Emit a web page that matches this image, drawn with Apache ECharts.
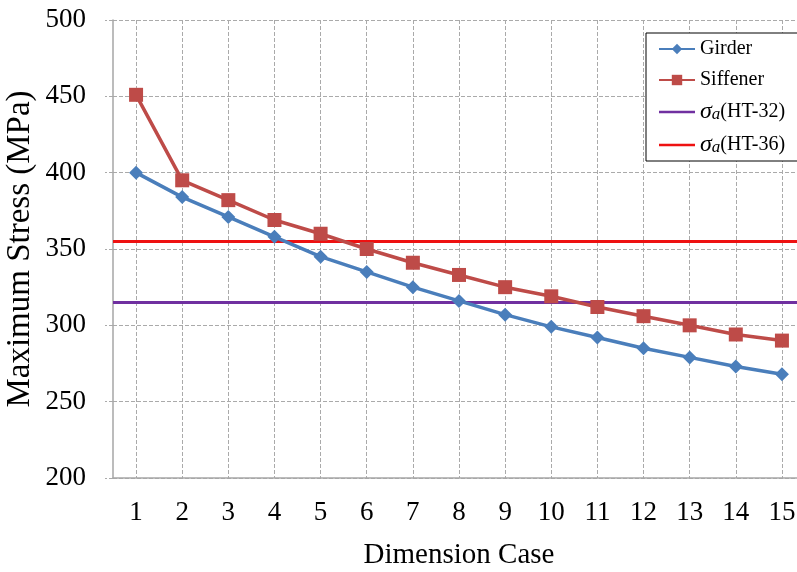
<!DOCTYPE html>
<html>
<head>
<meta charset="utf-8">
<script src="https://cdn.jsdelivr.net/npm/echarts@6/dist/echarts.min.js"></script>
<style>html,body{margin:0;padding:0;background:#fff;}#c{width:797px;height:572px;}</style>
</head>
<body>
<div id="c"></div>
<script>
var categories = ['1','2','3','4','5','6','7','8','9','10','11','12','13','14','15'];
var girder = [400, 384, 371, 358, 345, 335, 325, 316, 307, 299, 292, 285, 279, 273, 268];
var siffener = [451, 395, 382, 369, 360, 350, 341, 333, 325, 319, 312, 306, 300, 294, 290];
var yTicks = [200, 250, 300, 350, 400, 450, 500];
var ht32 = 315;
var ht36 = 355;

var serif = '"Liberation Serif", "DejaVu Serif", serif';
var chart = echarts.init(document.getElementById('c'));
var sigmaRich = {
  s: { fontFamily: serif, fontStyle: 'italic', fontSize: 24, color: '#000', lineHeight: 22 },
  sub: { fontFamily: serif, fontStyle: 'italic', fontSize: 17, color: '#000', lineHeight: 12, verticalAlign: 'bottom' },
  t: { fontFamily: serif, fontSize: 20, color: '#000', lineHeight: 22 }
};
var lineIcon = 'path://M0,0 L40,0 L40,3 L0,3 Z';
chart.setOption({
  animation: false,
  backgroundColor: '#fff',
  grid: { left: 113, top: 20, width: 692, height: 458, outerBoundsMode: 'none', containLabel: false },
  legend: {
    orient: 'vertical',
    left: 646, top: 33,
    width: 160,
    backgroundColor: '#fff',
    borderColor: '#000',
    borderWidth: 1,
    borderRadius: 0,
    padding: [5, 20, 4, 12],
    itemGap: 9,
    itemWidth: 36,
    itemHeight: 13,
    textStyle: { fontFamily: serif, fontSize: 20, color: '#000', lineHeight: 22, rich: sigmaRich },
    formatter: function (name) {
      if (name === 'HT32') return '{s|σ}{sub|a}{t|(HT-32)}';
      if (name === 'HT36') return '{s|σ}{sub|a}{t|(HT-36)}';
      return '{t|' + name + '}';
    },
    data: [
      { name: 'Girder' },
      { name: 'Siffener' },
      { name: 'HT32', icon: lineIcon, itemStyle: { color: '#7030A0' } },
      { name: 'HT36', icon: lineIcon, itemStyle: { color: '#EE1111' } }
    ]
  },
  xAxis: {
    type: 'category',
    data: categories,
    boundaryGap: true,
    name: 'Dimension Case',
    nameLocation: 'middle',
    nameGap: 63,
    nameTextStyle: { fontFamily: serif, fontSize: 29, color: '#000' },
    axisLine: { lineStyle: { color: '#A6A6A6', width: 1.5 } },
    axisTick: { alignWithLabel: true, length: 12, lineStyle: { color: '#AAAAAA', type: 'dashed' } },
    axisLabel: { fontFamily: serif, fontSize: 27, color: '#000', margin: 21 },
    splitLine: { show: true, alignWithLabel: true, lineStyle: { color: '#AAAAAA', type: 'dashed', width: 1 } }
  },
  yAxis: {
    type: 'value',
    min: yTicks[0], max: yTicks[yTicks.length - 1], interval: 50,
    name: 'Maximum Stress (MPa)',
    nameLocation: 'middle',
    nameGap: 76,
    nameMoveOverlap: false,
    nameTextStyle: { fontFamily: serif, fontSize: 33, color: '#000' },
    axisLine: { show: true, lineStyle: { color: '#A6A6A6', width: 1.5 } },
    axisTick: { show: true, length: 8, lineStyle: { color: '#AAAAAA', type: 'dashed' } },
    axisLabel: { fontFamily: serif, fontSize: 27, color: '#000', margin: 27 },
    splitLine: { show: true, lineStyle: { color: '#AAAAAA', type: 'dashed', width: 1 } }
  },
  series: [
    {
      name: 'HT32', type: 'line', data: [], color: '#7030A0',
      lineStyle: { color: '#7030A0', width: 3 }, symbol: 'none',
      markLine: { silent: true, symbol: 'none', label: { show: false },
        lineStyle: { color: '#7030A0', width: 3, type: 'solid' }, data: [{ yAxis: ht32 }] }
    },
    {
      name: 'HT36', type: 'line', data: [], color: '#EE1111',
      lineStyle: { color: '#EE1111', width: 3 }, symbol: 'none',
      markLine: { silent: true, symbol: 'none', label: { show: false },
        lineStyle: { color: '#EE1111', width: 3, type: 'solid' }, data: [{ yAxis: ht36 }] }
    },
    {
      name: 'Girder', type: 'line', data: girder, color: '#4A7EBB',
      lineStyle: { color: '#4A7EBB', width: 3.5 },
      symbol: 'diamond', symbolSize: 14,
      itemStyle: { color: '#4A7EBB' }, z: 5
    },
    {
      name: 'Siffener', type: 'line', data: siffener, color: '#BE4B48',
      lineStyle: { color: '#BE4B48', width: 3.5 },
      symbol: 'rect', symbolSize: 14,
      itemStyle: { color: '#BE4B48' }, z: 6
    }
  ]
});
</script>
</body>
</html>
